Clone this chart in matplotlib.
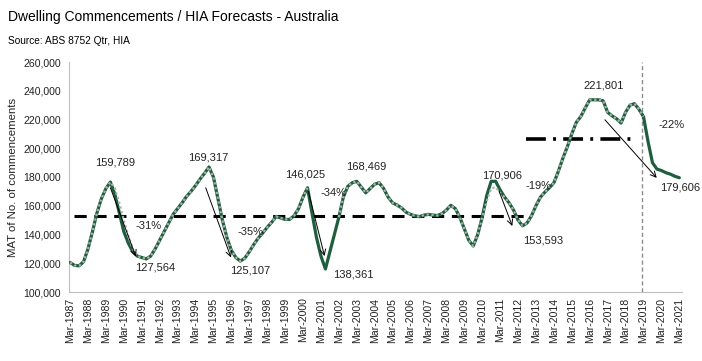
import matplotlib
matplotlib.use("Agg")
import matplotlib.pyplot as plt
from matplotlib import font_manager
import numpy as np

# fonts - Excel chart uses a narrow Arial look
names = {f.name for f in font_manager.fontManager.ttflist}
narrow = "Liberation Sans Narrow" in names
plt.rcParams["font.family"] = ["Liberation Sans Narrow", "Liberation Sans", "DejaVu Sans"] if narrow else ["Liberation Sans", "DejaVu Sans"]
k = 1.2 if narrow else 1.0

# quarterly MAT dwelling commencements, Mar-1987 .. Mar-2021
start_year = 1987
forecast = [
    120500, 118500, 118200, 121000,   # 1987
    130000, 142000, 155000, 165000,   # 1988
    172000, 176500, 168000, 155000,   # 1989
    142000, 134000, 128000, 125000,   # 1990
    124000, 123000, 125000, 130000,   # 1991
    136000, 142000, 148000, 154000,   # 1992
    158000, 162000, 166500, 170000,   # 1993
    174000, 178500, 182500, 187000,   # 1994
    180000, 165000, 150000, 138000,   # 1995
    129000, 124000, 121500, 123500,   # 1996
    128000, 133000, 137500, 141000,   # 1997
    145000, 148500, 152500, 151500,   # 1998
    150500, 150500, 153000, 158000,   # 1999
    166000, 172500, 155000, 138000,   # 2000
    125000, 116000, 128000, 140000,   # 2001
    152000, 166000, 173500, 176000,   # 2002
    177000, 173000, 169000, 172000,   # 2003
    175000, 176000, 172000, 166000,   # 2004
    162000, 160500, 158500, 155500,   # 2005
    154000, 153000, 152400, 153500,   # 2006
    154000, 153500, 153200, 154500,   # 2007
    157000, 160300, 158000, 152000,   # 2008
    144000, 136000, 132000, 140000,   # 2009
    152000, 167000, 177000, 177000,   # 2010
    171000, 166000, 162000, 157000,   # 2011
    150000, 146000, 148000, 153000,   # 2012
    160000, 166000, 169500, 172500,   # 2013
    176000, 184000, 193000, 201000,   # 2014
    210000, 218000, 222000, 228000,   # 2015
    233700, 233700, 233700, 233000,   # 2016
    225000, 222500, 220500, 217500,   # 2017
    225000, 230000, 231000, 227000,   # 2018
    222000, 205000, 190000, 185500,   # 2019
    184500, 183000, 182000, 180500,   # 2020
    179500,                           # 2021
]

# actual series (grey dotted) - differs in a few spots, stops at the forecast line
actual = list(forecast)
actual[10:15] = [172000, 162000, 150000, 139000, 130000]   # 1989-90
actual[54:60] = [np.nan] * 6                               # 2000-01
actual[93:97] = [163000, 172000, 173000, 169000]           # 2010-11
actual[129:] = [np.nan] * (len(actual) - 129)

years = start_year + np.arange(len(forecast)) * 0.25

avg_1 = 153000   # long run average 1987-2012
avg_2 = 206500   # average 2012-2018
forecast_start = 2018.9

labels = [
    ("159,789", 1989.5, 190000), ("127,564", 1991.75, 117000), ("-31%", 1991.4, 146000),
    ("169,317", 1994.7, 193500), ("125,107", 1997.05, 114800), ("-35%", 1997.05, 141800),
    ("146,025", 2000.1, 181700), ("138,361", 2002.8, 112500), ("-34%", 2001.7, 169000),
    ("168,469", 2003.55, 187000), ("170,906", 2011.1, 181000), ("-19%", 2013.15, 173600),
    ("153,593", 2013.4, 135500), ("221,801", 2016.75, 244000), ("-22%", 2020.55, 216400),
    ("179,606", 2021.05, 172500),
]
arrows = [
    ((1989.25, 172500), (1990.67, 124700)),
    ((1994.57, 172500), (1995.98, 124000)),
    ((2000.3, 170000), (2001.2, 125000)),
    ((2010.94, 170200), (2011.68, 145900)),
    ((2016.85, 219800), (2019.74, 179400)),
]

fig = plt.figure(figsize=(7.02, 3.61), dpi=100)
ax = fig.add_axes([69 / 702, 1 - 292 / 361, 613 / 702, 230 / 361])

ax.plot(years, forecast, color="#1e5e3e", linewidth=2.3, solid_capstyle="round", zorder=3)
ax.plot(years, actual, color="#a9b3ab", linewidth=1.6, linestyle=(0, (1, 1.2)), zorder=4)

ax.plot([1987.2, 2012.4], [avg_1, avg_1], color="black", linewidth=2.2, linestyle=(0, (4, 2.5)), zorder=2)
ax.plot([2012.45, 2018.3], [avg_2, avg_2], color="black", linewidth=2.6, linestyle=(0, (5.5, 2, 0.8, 2)), zorder=2)
ax.axvline(forecast_start, color="#8c8c8c", linewidth=1.0, linestyle=(0, (3, 2)), zorder=1)

for (x0, y0), (x1, y1) in arrows:
    ax.annotate("", xy=(x1, y1), xytext=(x0, y0),
                arrowprops=dict(arrowstyle="->", color="black", lw=0.7, shrinkA=0, shrinkB=0), zorder=5)

for txt, x, y in labels:
    ax.text(x, y, txt, ha="center", va="center", fontsize=8.0 * k, color="#222222", clip_on=False, zorder=6)

ax.set_xlim(1986.94, 2021.15)
ax.set_ylim(100000, 260000)
ax.set_yticks(np.arange(100000, 260001, 20000))
ax.set_yticklabels([f"{v:,}" for v in range(100000, 260001, 20000)])
ax.set_xticks(np.arange(1987, 2022))
ax.set_xticklabels([f"Mar-{y}" for y in range(1987, 2022)], rotation=90)
ax.tick_params(axis="both", length=0, labelsize=7.6 * k, colors="#222222")
ax.tick_params(axis="y", pad=6)
ax.tick_params(axis="x", pad=4)
for s in ["top", "right"]:
    ax.spines[s].set_visible(False)
for s in ["left", "bottom"]:
    ax.spines[s].set_color("#bfbfbf")
ax.set_ylabel("MAT of No. of commencements", fontsize=8.2 * k, color="#222222")
ax.yaxis.set_label_coords(-0.084, 0.5)

fig.text(8 / 702, 1 - 17 / 361, "Dwelling Commencements / HIA Forecasts - Australia",
         fontsize=10 * k, va="center", ha="left", color="black")
fig.text(8 / 702, 1 - 41 / 361, "Source: ABS 8752 Qtr, HIA",
         fontsize=7.3 * k, va="center", ha="left", color="black")

fig.savefig("out.png", dpi=100)
